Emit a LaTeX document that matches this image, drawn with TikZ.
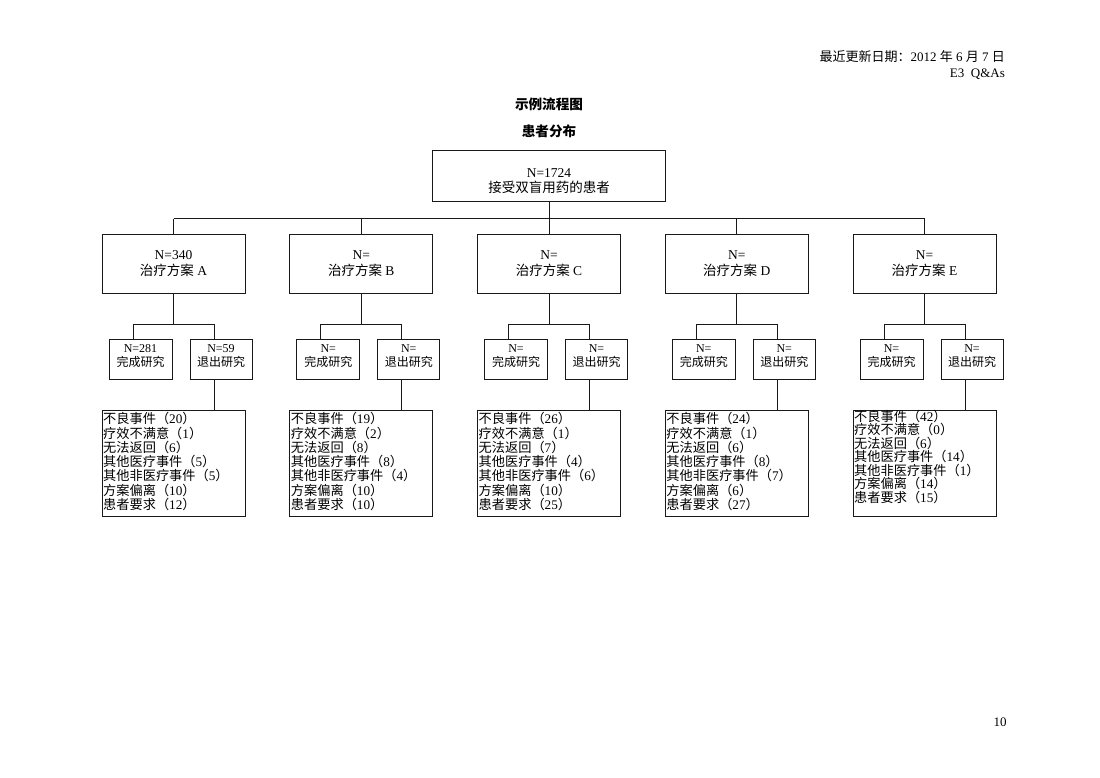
\documentclass[tikz,border=0pt]{standalone}
\usepackage{fontspec}
\setmainfont{Liberation Serif}
\newfontfamily\cjk{Noto Sans CJK SC}
\newcommand\zh[1]{{\cjk #1}}
\newcommand\rs[7]{%
\zh{不良事件（}#1\zh{）}\\
\zh{疗效不满意（}#2\zh{）}\\
\zh{无法返回（}#3\zh{）}\\
\zh{其他医疗事件（}#4\zh{）}\\
\zh{其他非医疗事件（}#5\zh{）}\\
\zh{方案偏离（}#6\zh{）}\\
\zh{患者要求（}#7\zh{）}}
\tikzset{
  box/.style={draw=black!90, line width=1pt, inner sep=0pt},
  ln/.style={draw=black!90, line width=1pt},
  ttxt/.style={align=center, inner sep=0pt, font=\fontsize{13.5}{16}\selectfont},
  stxt/.style={align=center, inner sep=0pt, font=\fontsize{12}{14}\selectfont},
  rtxt/.style={align=left, inner sep=0pt, anchor=north west},
}
\newcommand\grp[7]{%
  \node[box, minimum width=143, minimum height=59] (t#1) at ({#2+71.5},263.5) {};
  \node[ttxt] (tt#1) at ({#2+71.5},264) {N=#3\\\zh{治疗方案} #1};
  \node[box, minimum width=63, minimum height=40] (c#1) at ({#2+38.5},359) {};
  \node[stxt] (ct#1) at ({#2+38.5},356) {N=#4\\\zh{完成研究}};
  \node[box, minimum width=62, minimum height=40] (w#1) at ({#2+119},359) {};
  \node[stxt] (wt#1) at ({#2+119},356) {N=#5\\\zh{退出研究}};
  \node[box, minimum width=143, minimum height=106.5] (r#1) at ({#2+71.5},463.25) {};
  \node[rtxt, xshift=1.5pt, #7] (rt#1) at (r#1.north west) {#6};
  \coordinate (sm#1) at ({#2+71.5},324);
  \coordinate (sl#1) at ({#2+31},324);
  \coordinate (sr#1) at ({#2+112},324);
  \draw[ln] (t#1.north) -- (t#1.north |- busL);
  \draw[ln] (t#1.south) -- (sm#1);
  \draw[ln] (sl#1) -- (sr#1);
  \draw[ln] (sl#1) -- (sl#1 |- c#1.north);
  \draw[ln] (sr#1) -- (sr#1 |- w#1.north);
  \draw[ln] (sr#1 |- w#1.south) -- (sr#1 |- r#1.north);
}
\begin{document}
\begin{tikzpicture}[x=1pt,y=-1pt]
\fill[white] (0,0) rectangle (1100,778);
\useasboundingbox (0,0) rectangle (1100,778);
% header
\node[anchor=base east, inner sep=0pt, font=\fontsize{13}{15}\selectfont] (hd1) at (1005,62) {\zh{最近更新日期：}2012 \zh{年} 6 \zh{月} 7 \zh{日}};
\node[anchor=base east, inner sep=0pt, font=\fontsize{13}{15}\selectfont] (hd2) at (1005,78) {E3\ \ Q\&As};
% titles
\node[inner sep=0pt, font=\fontsize{13.6}{15}\selectfont\bfseries] (ti1) at (549,104) {\zh{示例流程图}};
\node[inner sep=0pt, font=\fontsize{13.6}{15}\selectfont\bfseries] (ti2) at (549,131) {\zh{患者分布}};
% top box
\node[box, minimum width=233, minimum height=51] (top) at (549,176.5) {};
\node[ttxt, font=\fontsize{13.5}{15}\selectfont] (toptxt) at (549,181.5) {N=1724\\\zh{接受双盲用药的患者}};
\coordinate (busL) at (173.5,219);
\coordinate (busR) at (924.5,219);
\draw[ln] (top.south) -- (top.south |- busL);
\draw[ln] (busL) -- (busR);
% groups
\grp{A}{102}{340}{281}{59}{\rs{20}{1}{6}{5}{5}{10}{12}}{yshift=-2.7pt, font=\fontsize{13.2}{14.3}\selectfont}
\grp{B}{289.75}{}{}{}{\rs{19}{2}{8}{8}{4}{10}{10}}{yshift=-2.7pt, font=\fontsize{13.2}{14.3}\selectfont}
\grp{C}{477.5}{}{}{}{\rs{26}{1}{7}{4}{6}{10}{25}}{yshift=-2.7pt, font=\fontsize{13.2}{14.3}\selectfont}
\grp{D}{665.25}{}{}{}{\rs{24}{1}{6}{8}{7}{6}{27}}{yshift=-2.7pt, font=\fontsize{13.2}{14.3}\selectfont}
\grp{E}{853}{}{}{}{\rs{42}{0}{6}{14}{1}{14}{15}}{yshift=0pt, font=\fontsize{13.2}{13.5}\selectfont}
% page number
\node[inner sep=0pt, font=\fontsize{13}{15}\selectfont] (pg) at (1000,722) {10};
\end{tikzpicture}
\end{document}
